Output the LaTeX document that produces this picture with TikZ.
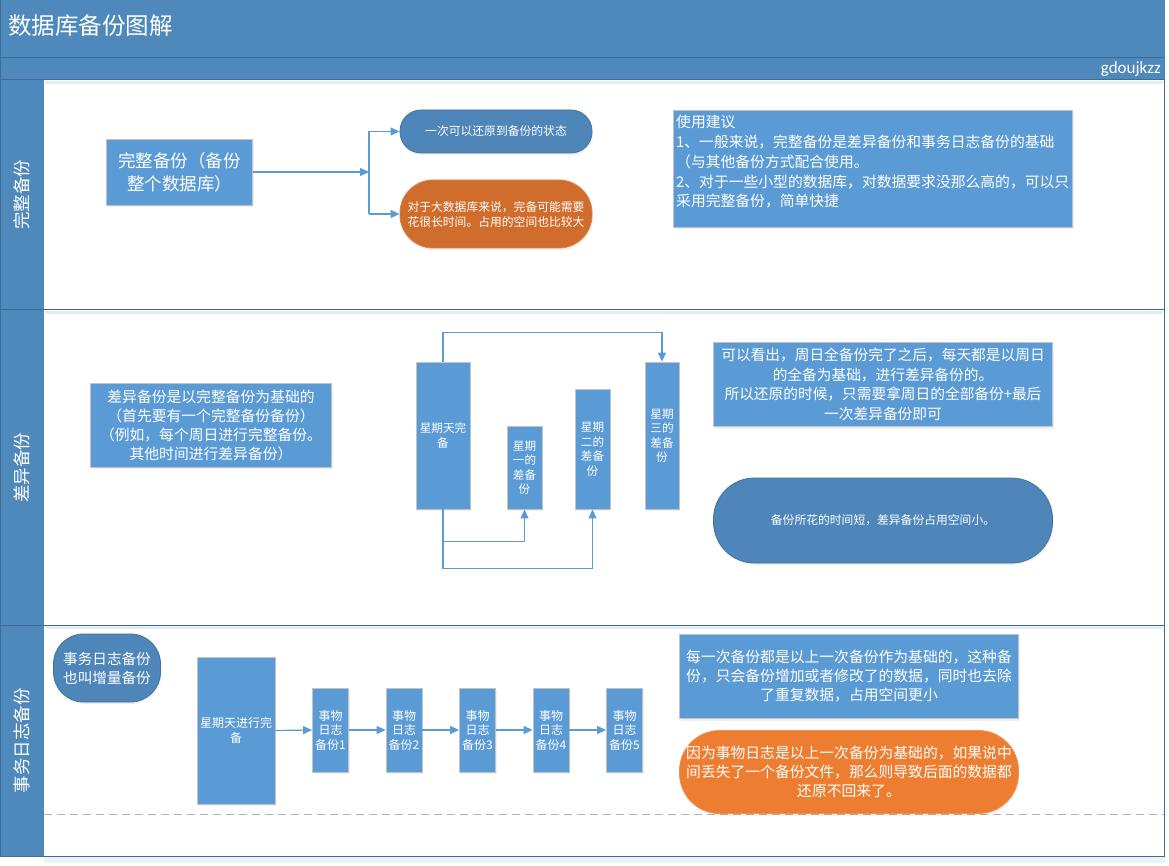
\documentclass[tikz,border=0pt]{standalone}
\usepackage{fontspec}
\setmainfont{Noto Sans CJK SC}
\newfontfamily\latinfont{Carlito}
\usetikzlibrary{arrows.meta,shadows}
\definecolor{hdr}{RGB}{79,136,187}
\definecolor{hdrline}{RGB}{62,108,150}
\definecolor{boxfill}{RGB}{91,155,213}
\definecolor{boxline}{RGB}{195,195,195}
\definecolor{darkfill}{RGB}{78,134,186}
\definecolor{darkline}{RGB}{65,113,156}
\definecolor{orgA}{RGB}{208,108,44}
\definecolor{orgB}{RGB}{237,125,49}
\definecolor{connc}{RGB}{91,155,213}
\newcommand{\myfs}[2]{\fontsize{#1}{#2}\selectfont}
\begin{document}
\begin{tikzpicture}[x=1pt,y=-1pt,
  bluebox/.style={draw=boxline, line width=0.8pt, fill=boxfill, text=white, inner sep=1pt, align=center,
    drop shadow={opacity=0.12, shadow xshift=1pt, shadow yshift=-2pt}},
  darkpill/.style={draw=darkline, line width=0.8pt, fill=darkfill, text=white, inner sep=1pt, align=center,
    drop shadow={opacity=0.12, shadow xshift=1pt, shadow yshift=-2pt}},
  orangepill/.style={draw=#1!85!white, line width=0.8pt, fill=#1, text=white, inner sep=1pt, align=center,
    drop shadow={opacity=0.12, shadow xshift=1pt, shadow yshift=-2pt}},
  arrowline/.style={draw=connc, line width=1.2pt, -{Triangle[length=9pt,width=8pt]}},
  plainline/.style={draw=connc, line width=1.2pt},
  lanelabel/.style={rotate=90, text=white, font=\myfs{17.5}{20}},
  framel/.style={draw=hdrline, line width=1pt}
]
\useasboundingbox (0,0) rectangle (1169,866);
\fill[white] (0,0) rectangle (1169,866);
% ---------- frame ----------
\fill[hdr] (0,0) rectangle (1165,80);
\fill[hdr] (0,80) rectangle (44,856);
\fill[hdr!12] (44,857) rectangle (1165,863);
\draw[framel] (0,58) -- (1165,58);
\draw[framel] (0,80) -- (1165,80);
\draw[framel] (0,310) -- (1165,310);
\draw[framel] (0,625) -- (1165,625);
\draw[framel] (0,856) -- (1165,856);
\draw[framel] (1164.5,80) -- (1164.5,856);
\draw[framel] (0.5,0) -- (0.5,856);
\draw[hdr!15, line width=3pt] (45,312.5) -- (1163,312.5);
\draw[hdr!15, line width=3pt] (45,627.5) -- (1163,627.5);
\draw[hdr!15, line width=3pt] (45,82.5) -- (1163,82.5);
\draw[black!30, line width=1pt, dash pattern=on 8pt off 5pt] (44,814) -- (1164,814);
\node[anchor=west, text=white, font=\myfs{23.5}{26}, inner sep=0pt] (title) at (8,26) {数据库备份图解};
\node[anchor=east, text=white, font=\latinfont\myfs{17}{20}, inner sep=0pt] (author) at (1161,69) {gdoujkzz};
\node[lanelabel] (lane1) at (22,195) {完整备份};
\node[lanelabel] (lane2) at (22,467.5) {差异备份};
\node[lanelabel] (lane3) at (22,740.5) {事务日志备份};
% ---------- lane 1 ----------
\node[bluebox, minimum width=146pt, minimum height=66pt, font=\myfs{17.5}{23}] (A) at (179.5,172) {完整备份（备份\\整个数据库）};
\node[darkpill, rounded corners=21pt, minimum width=192pt, minimum height=43pt, font=\myfs{11.8}{15}] (R1) at (496,131.5) {一次可以还原到备份的状态};
\node[orangepill=orgA, rounded corners=33pt, minimum width=192pt, minimum height=68pt, font=\myfs{11.8}{15}] (R2) at (496,214) {对于大数据库来说，完备可能需要\\花很长时间。占用的空间也比较大};
\coordinate (J) at (369,172);
\coordinate (Jt) at (369,131.5);
\coordinate (Jb) at (369,214);
\draw[arrowline] (A.east) -- (J);
\draw[plainline] (Jt) -- (Jb);
\draw[arrowline] (Jt) -- (R1.west);
\draw[arrowline] (Jb) -- (R2.west);
\node[bluebox, minimum width=399pt, minimum height=117pt] (S) at (873,168.5) {};
\node[anchor=north west, align=left, text=white, inner sep=0pt, font=\myfs{14.8}{19.8}] (St) at (676,115) {使用建议\\1、一般来说，完整备份是差异备份和事务日志备份的基础\\（与其他备份方式配合使用。\\2、对于一些小型的数据库，对数据要求没那么高的，可以只\\采用完整备份，简单快捷};
% ---------- lane 2 ----------
\node[bluebox, minimum width=241pt, minimum height=84pt, font=\myfs{14.8}{19}] (D) at (211,425) {差异备份是以完整备份为基础的\\（首先要有一个完整备份备份）\\（例如，每个周日进行完整备份。\\其他时间进行差异备份）};
\node[bluebox, minimum width=54pt, minimum height=147pt, font=\myfs{11.6}{15}] (Sun) at (443,435.5) {星期天完\\备};
\node[bluebox, minimum width=35pt, minimum height=83pt, font=\myfs{11.6}{14.5}] (Mon) at (524.5,467.5) {星期\\一的\\差备\\份};
\node[bluebox, minimum width=35pt, minimum height=120pt, font=\myfs{11.6}{14.5}] (Tue) at (592.5,449) {星期\\二的\\差备\\份};
\node[bluebox, minimum width=34pt, minimum height=147pt, font=\myfs{11.6}{14.5}] (Wed) at (662,435.5) {星期\\三的\\差备\\份};
\draw[arrowline] (Sun.north) -- ++(0,-29) -| (Wed.north);
\draw[arrowline] (Sun.south) -- ++(0,32) -| (Mon.south);
\draw[arrowline] (Sun.south) -- ++(0,59) -| (Tue.south);
\node[bluebox, minimum width=339pt, minimum height=84pt, font=\myfs{14.7}{19.7}] (T2) at (883,384.5) {可以看出，周日全备份完了之后，每天都是以周日\\的全备为基础，进行差异备份的。\\所以还原的时候，只需要拿周日的全部备份+最后\\一次差异备份即可};
\node[darkpill, rounded corners=41pt, minimum width=339pt, minimum height=85pt, font=\myfs{11.8}{15}] (P2) at (883,520.5) {备份所花的时间短，差异备份占用空间小。};
% ---------- lane 3 ----------
\node[darkpill, rounded corners=30pt, minimum width=107pt, minimum height=68pt, font=\myfs{14.6}{19}] (Q) at (107,668) {事务日志备份\\也叫增量备份};
\node[bluebox, minimum width=78pt, minimum height=147pt, font=\myfs{12}{15}] (SL) at (236,730.5) {星期天进行完\\备};
\node[bluebox, minimum width=36pt, minimum height=84pt, font=\myfs{12}{14.5}] (L1) at (330.5,730) {事物\\日志\\备份1};
\node[bluebox, minimum width=36pt, minimum height=84pt, font=\myfs{12}{14.5}] (L2) at (404,730) {事物\\日志\\备份2};
\node[bluebox, minimum width=36pt, minimum height=84pt, font=\myfs{12}{14.5}] (L3) at (477.5,730) {事物\\日志\\备份3};
\node[bluebox, minimum width=36pt, minimum height=84pt, font=\myfs{12}{14.5}] (L4) at (551,730) {事物\\日志\\备份4};
\node[bluebox, minimum width=36pt, minimum height=84pt, font=\myfs{12}{14.5}] (L5) at (624.5,730) {事物\\日志\\备份5};
\draw[arrowline] (SL.east) -- (L1.west);
\draw[arrowline] (L1.east) -- (L2.west);
\draw[arrowline] (L2.east) -- (L3.west);
\draw[arrowline] (L3.east) -- (L4.west);
\draw[arrowline] (L4.east) -- (L5.west);
\node[bluebox, minimum width=339pt, minimum height=84pt, font=\myfs{14.8}{19}] (T3) at (849,676.5) {每一次备份都是以上一次备份作为基础的，这种备\\份，只会备份增加或者修改了的数据，同时也去除\\了重复数据，占用空间更小};
\node[orangepill=orgB, rounded corners=40pt, minimum width=339pt, minimum height=83pt, font=\myfs{14.8}{19}] (O3) at (849,772) {因为事物日志是以上一次备份为基础的，如果说中\\间丢失了一个备份文件，那么则导致后面的数据都\\还原不回来了。};
\end{tikzpicture}
\end{document}
